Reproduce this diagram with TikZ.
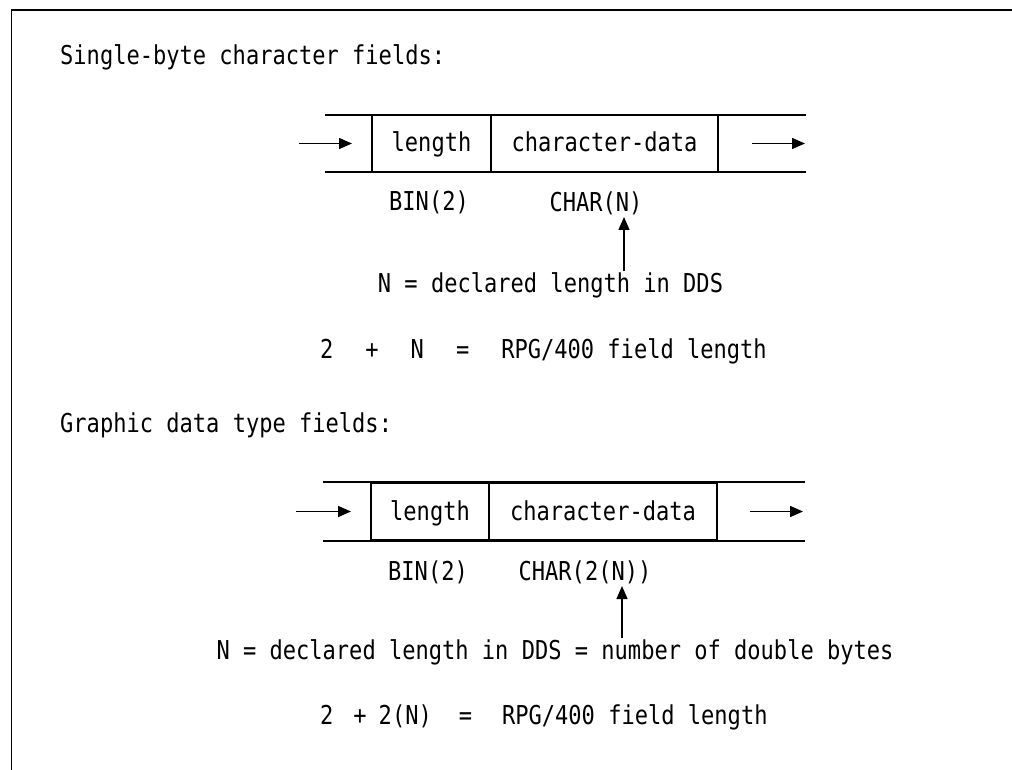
\documentclass[tikz,border=0pt]{standalone}
\usepackage{fontspec}
\newfontfamily\ibmfont[FakeStretch=0.848]{DejaVu Sans Mono}
\usetikzlibrary{arrows.meta}
\begin{document}
\begin{tikzpicture}[x=1pt,y=-1pt,
  txt/.style={font=\ibmfont\fontsize{26}{30}\selectfont, inner sep=0pt, anchor=base},
  ttl/.style={txt, anchor=base west},
  cell/.style={draw, line width=1.4pt, inner sep=0pt, text height=21pt, text depth=4pt,
               minimum height=57pt, font=\ibmfont\fontsize{26}{30}\selectfont},
  rail/.style={line width=1.4pt},
  frame/.style={line width=1.8pt},
  flow/.style={line width=1.4pt, -{Triangle[length=13pt,width=11pt]}}
]
\useasboundingbox (0,0) rectangle (1012,770);
\fill[white] (0,0) rectangle (1012,770);
% frame
\coordinate (fa) at (11.5,770);
\coordinate (fb) at (11.5,10);
\coordinate (fc) at (1012,10);
\draw[frame] (fa) -- (fb) -- (fc);

% ---------- section 1 ----------
\node[ttl] (t1) at (60,65) {Single-byte character fields:};
\coordinate (r1a) at (325,115); \coordinate (r1b) at (806,115);
\coordinate (r1c) at (325,172); \coordinate (r1d) at (806,172);
\draw[rail] (r1a) -- (r1b);
\draw[rail] (r1c) -- (r1d);
\node[cell, minimum width=119pt] (len1) at (431.5,143.5) {length};
\node[cell, minimum width=227pt] (dat1) at (604.5,143.5) {character-data};
\coordinate (in1s) at (299,143.5); \coordinate (in1e) at (352,143.5);
\coordinate (out1s) at (752,143.5); \coordinate (out1e) at (805,143.5);
\draw[flow] (in1s) -- (in1e);
\draw[flow] (out1s) -- (out1e);
\node[txt] (bin1) at (429,211) {BIN(2)};
\node[txt] (chr1) at (596,212) {CHAR(N)};
\coordinate (up1s) at (624,271); \coordinate (up1e) at (624,217);
\draw[flow] (up1s) -- (up1e);
\node[txt] (decl1) at (550.5,292) {N = declared length in DDS};
\node[ttl] (sum1) at (320,358) {2\hspace{32pt}+\hspace{32pt}N\hspace{32pt}=\hspace{32pt}RPG/400 field length};

% ---------- section 2 ----------
\node[ttl] (t2) at (60,432) {Graphic data type fields:};
\coordinate (r2a) at (323,482); \coordinate (r2b) at (805,482);
\coordinate (r2c) at (323,541); \coordinate (r2d) at (805,541);
\draw[rail] (r2a) -- (r2b);
\draw[rail] (r2c) -- (r2d);
\node[cell, minimum width=118pt] (len2) at (430,511.5) {length};
\node[cell, minimum width=228pt] (dat2) at (603,511.5) {character-data};
\coordinate (in2s) at (296,511.5); \coordinate (in2e) at (351,511.5);
\coordinate (out2s) at (750,511.5); \coordinate (out2e) at (803,511.5);
\draw[flow] (in2s) -- (in2e);
\draw[flow] (out2s) -- (out2e);
\node[txt] (bin2) at (428,580) {BIN(2)};
\node[txt] (chr2) at (585,580) {CHAR(2(N))};
\coordinate (up2s) at (622,638); \coordinate (up2e) at (622,586);
\draw[flow] (up2s) -- (up2e);
\node[txt] (decl2) at (555,659) {N = declared length in DDS = number of double bytes};
\node[ttl] (sum2) at (320,724) {2\hspace{20pt}+\hspace{12pt}2(N)\hspace{27pt}=\hspace{30pt}RPG/400 field length};
\end{tikzpicture}
\end{document}
